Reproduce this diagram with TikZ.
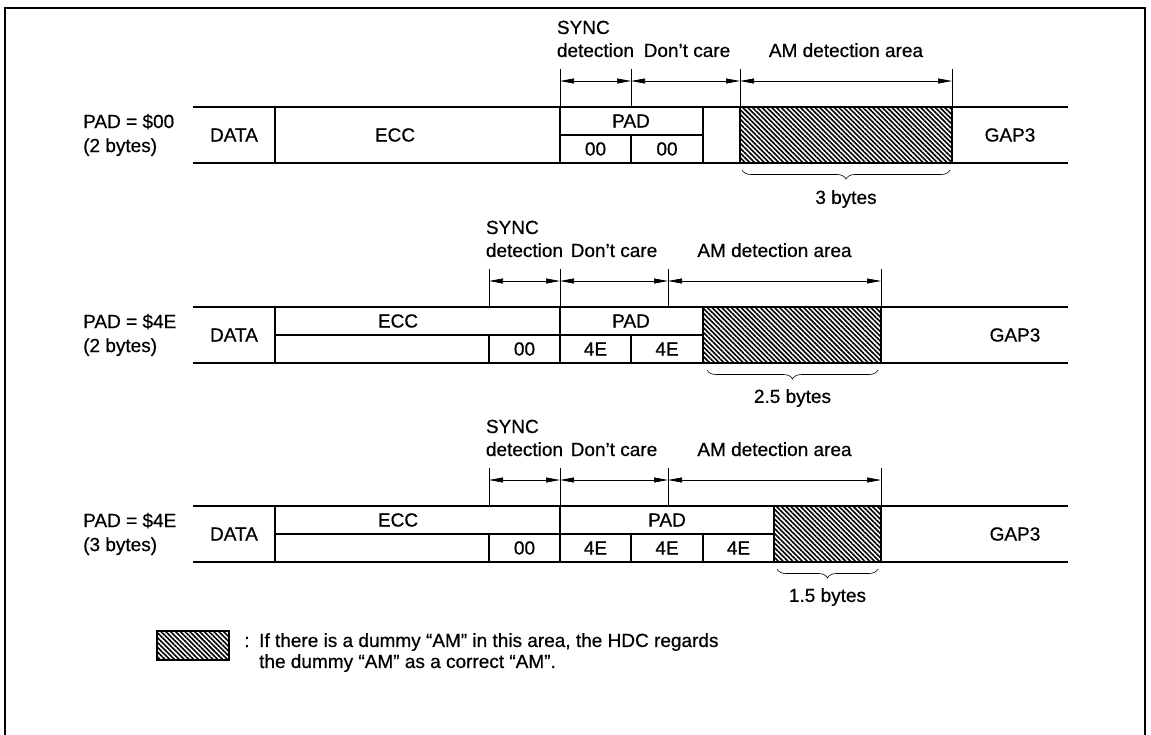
\documentclass[tikz,border=0pt]{standalone}
\usepackage{fontspec}
\setmainfont{Liberation Sans}[FakeBold=0.6]
\usetikzlibrary{arrows.meta,patterns.meta,decorations.pathreplacing}
\tikzset{
  rowline/.style={line width=1.4pt},
  cellline/.style={line width=1.1pt},
  tickline/.style={line width=0.6pt},
  dimarrow/.style={{Stealth[length=14pt,width=5pt,inset=0pt]}-{Stealth[length=14pt,width=5pt,inset=0pt]},line width=0.7pt},
  amarea/.style={draw,line width=2pt,pattern={Lines[angle=-45,distance=3.4pt,line width=1.6pt]}},
  txt/.style={font=\fontsize{19}{22}\selectfont,inner sep=0pt},
  sidelabel/.style={txt,align=left,anchor=west,font=\fontsize{19}{24}\selectfont},
  bytebrace/.style={decorate,decoration={brace,mirror,amplitude=9pt},line width=0.6pt},
  framebox/.style={line width=1.5pt}
}
\begin{document}
\begin{tikzpicture}[x=1pt,y=-1pt]
  \useasboundingbox (0,0) rectangle (1151,735);
  \draw[framebox] (5,735) -- (5,8) -- (1145,8) -- (1145,735);

  \node[sidelabel] (lbl1) at (83,135) {PAD = \$00\\(2 bytes)};
  \draw[rowline] (193,107) -- (1068,107) (193,163) -- (1068,163);
  \draw[cellline] (275,107) -- (275,163) (560,107) -- (560,163) (703,107) -- (703,163)
    (560,135) -- (703,135) (631,135) -- (631,163);
  \draw[amarea] (740,107) rectangle (952,163);
  \node[txt] (data1) at (234,135) {DATA};
  \node[txt] (ecc1) at (395,135) {ECC};
  \node[txt] (pad1) at (631,121) {PAD};
  \node[txt] (pa1) at (595.5,149) {00};
  \node[txt] (pb1) at (667,149) {00};
  \node[txt] (gap1) at (1010,135) {GAP3};
  \coordinate (s1a) at (560,81);
  \coordinate (s1b) at (631,81);
  \coordinate (s1c) at (740,81);
  \coordinate (s1d) at (952,81);
  \draw[tickline] (s1a) ++(0,-12) -- ++(0,38) (s1b) ++(0,-12) -- ++(0,38)
    (s1c) ++(0,-12) -- ++(0,38) (s1d) ++(0,-12) -- ++(0,38);
  \draw[dimarrow] (s1a) -- (s1b);
  \draw[dimarrow] (s1b) -- (s1c);
  \draw[dimarrow] (s1c) -- (s1d);
  \node[txt,anchor=base] (det1) at (595.5,57) {detection};
  \node[txt,anchor=base west] (sync1) at ([yshift=23pt]det1.base west) {SYNC};
  \node[txt,anchor=base] (dc1) at (687,57) {Don't care};
  \node[txt,anchor=base] (am1) at (846,57) {AM detection area};
  \coordinate (b1l) at (742,170);
  \coordinate (b1r) at (950,170);
  \draw[bytebrace] (b1l) -- (b1r);
  \node[txt] (by1) at (846,199) {3 bytes};

  \node[sidelabel] (lbl2) at (83,335) {PAD = \$4E\\(2 bytes)};
  \draw[rowline] (193,307) -- (1068,307) (193,363) -- (1068,363);
  \draw[cellline] (275,307) -- (275,363) (560,307) -- (560,363) (275,335) -- (703,335)
    (489,335) -- (489,363) (631,335) -- (631,363);
  \draw[amarea] (703,307) rectangle (881,363);
  \node[txt] (data2) at (234,335) {DATA};
  \node[txt] (ecc2) at (398,321) {ECC};
  \node[txt] (zz2) at (524.5,349) {00};
  \node[txt] (pad2) at (631,321) {PAD};
  \node[txt] (pa2) at (595.5,349) {4E};
  \node[txt] (pb2) at (667,349) {4E};
  \node[txt] (gap2) at (1015,335) {GAP3};
  \coordinate (s2a) at (489,281);
  \coordinate (s2b) at (560,281);
  \coordinate (s2c) at (668,281);
  \coordinate (s2d) at (881,281);
  \draw[tickline] (s2a) ++(0,-12) -- ++(0,38) (s2b) ++(0,-12) -- ++(0,38)
    (s2c) ++(0,-12) -- ++(0,38) (s2d) ++(0,-12) -- ++(0,38);
  \draw[dimarrow] (s2a) -- (s2b);
  \draw[dimarrow] (s2b) -- (s2c);
  \draw[dimarrow] (s2c) -- (s2d);
  \node[txt,anchor=base] (det2) at (524.5,257) {detection};
  \node[txt,anchor=base west] (sync2) at ([yshift=23pt]det2.base west) {SYNC};
  \node[txt,anchor=base] (dc2) at (614,257) {Don't care};
  \node[txt,anchor=base] (am2) at (774.5,257) {AM detection area};
  \coordinate (b2l) at (707,370);
  \coordinate (b2r) at (878,370);
  \draw[bytebrace] (b2l) -- (b2r);
  \node[txt] (by2) at (792.5,398) {2.5 bytes};

  \node[sidelabel] (lbl3) at (83,534) {PAD = \$4E\\(3 bytes)};
  \draw[rowline] (193,506) -- (1068,506) (193,562) -- (1068,562);
  \draw[cellline] (275,506) -- (275,562) (560,506) -- (560,562) (275,534) -- (774,534)
    (489,534) -- (489,562) (631,534) -- (631,562) (703,534) -- (703,562);
  \draw[amarea] (774,506) rectangle (881,562);
  \node[txt] (data3) at (234,534) {DATA};
  \node[txt] (ecc3) at (398,520) {ECC};
  \node[txt] (zz3) at (524.5,548) {00};
  \node[txt] (pad3) at (667,520) {PAD};
  \node[txt] (pa3) at (595.5,548) {4E};
  \node[txt] (pb3) at (667,548) {4E};
  \node[txt] (pc3) at (738.5,548) {4E};
  \node[txt] (gap3) at (1015,534) {GAP3};
  \coordinate (s3a) at (489,480);
  \coordinate (s3b) at (560,480);
  \coordinate (s3c) at (668,480);
  \coordinate (s3d) at (881,480);
  \draw[tickline] (s3a) ++(0,-12) -- ++(0,38) (s3b) ++(0,-12) -- ++(0,38)
    (s3c) ++(0,-12) -- ++(0,38) (s3d) ++(0,-12) -- ++(0,38);
  \draw[dimarrow] (s3a) -- (s3b);
  \draw[dimarrow] (s3b) -- (s3c);
  \draw[dimarrow] (s3c) -- (s3d);
  \node[txt,anchor=base] (det3) at (524.5,456) {detection};
  \node[txt,anchor=base west] (sync3) at ([yshift=23pt]det3.base west) {SYNC};
  \node[txt,anchor=base] (dc3) at (614,456) {Don't care};
  \node[txt,anchor=base] (am3) at (774.5,456) {AM detection area};
  \coordinate (b3l) at (777,569);
  \coordinate (b3r) at (878,569);
  \draw[bytebrace] (b3l) -- (b3r);
  \node[txt] (by3) at (827.5,597) {1.5 bytes};

  \draw[amarea] (157,631) rectangle (229,660);
  \node[txt] (colon) at (247,642) {:};
  \node[txt,align=left,anchor=north west,font=\fontsize{19}{21}\selectfont] (legend) at (259,633)
    {If there is a dummy ``AM'' in this area, the HDC regards\\the dummy ``AM'' as a correct ``AM''.};
\end{tikzpicture}
\end{document}
